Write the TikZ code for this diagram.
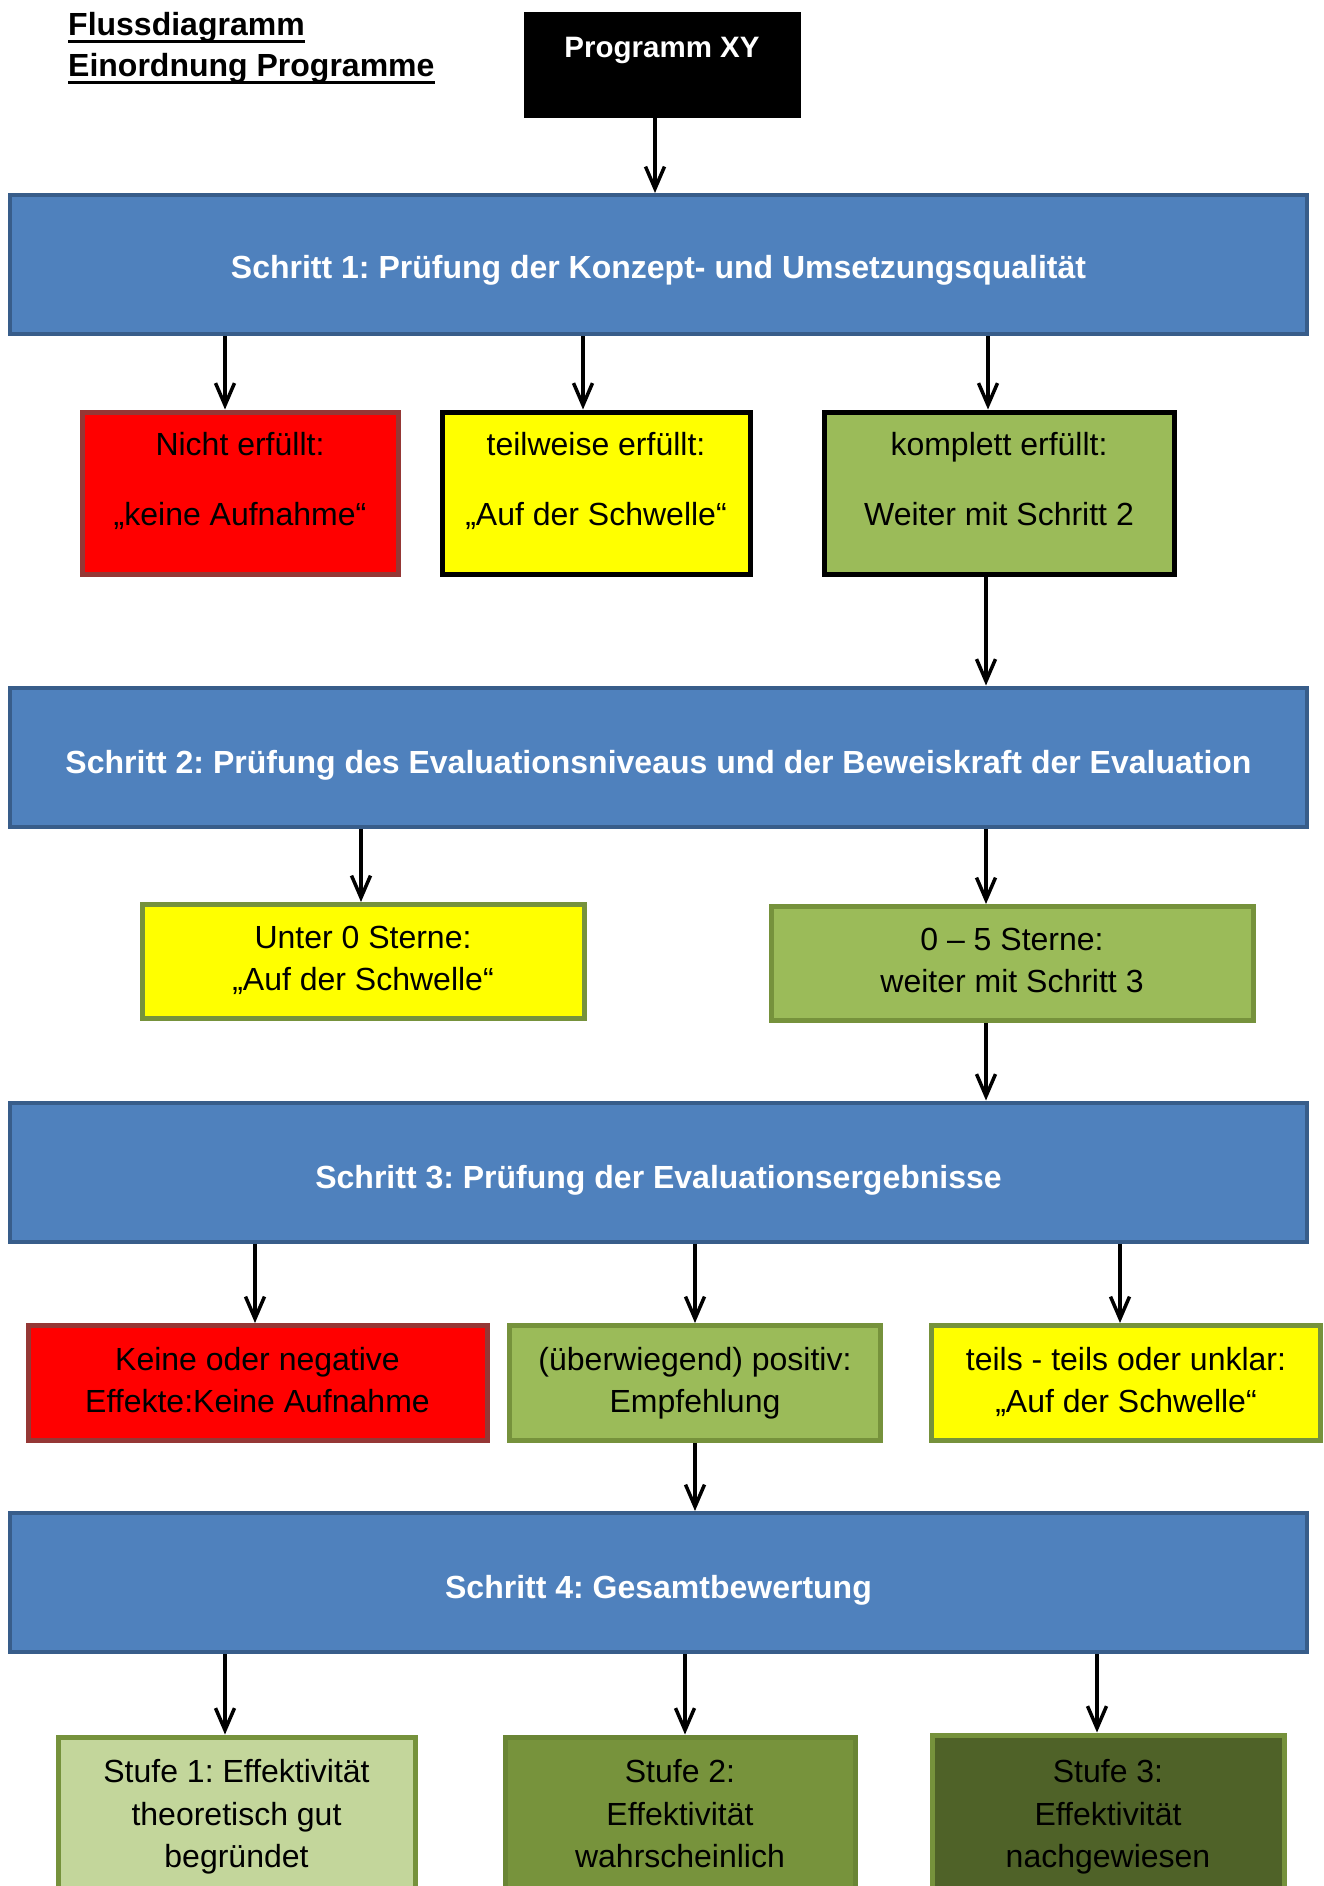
\documentclass[tikz,border=0pt]{standalone}
\usepackage{fontspec}
\setmainfont{Liberation Sans}
\usetikzlibrary{arrows.meta}
\frenchspacing
\definecolor{hblue}{HTML}{4F81BD}
\definecolor{hbluedark}{HTML}{385D8A}
\definecolor{redfill}{HTML}{FF0000}
\definecolor{redborder}{HTML}{953735}
\definecolor{yel}{HTML}{FFFF00}
\definecolor{grn}{HTML}{9BBB59}
\definecolor{olive}{HTML}{76923C}
\definecolor{lgrn}{HTML}{C3D69B}
\definecolor{mgrn}{HTML}{77933C}
\definecolor{mgrnborder}{HTML}{6A8535}
\definecolor{dgrn}{HTML}{4F6228}
\tikzset{
  hdr/.style={draw=hbluedark, fill=hblue, line width=4pt, minimum width=1297pt, minimum height=139pt, inner sep=0pt},
  stepbox/.style={line width=5pt, inner sep=0pt},
  txt/.style={anchor=base, inner sep=0pt, font=\fontsize{32}{38}\selectfont},
  htxt/.style={anchor=base, inner sep=0pt, text=white, font=\bfseries\fontsize{32}{38}\selectfont},
  ttl/.style={anchor=base west, inner sep=0pt, font=\bfseries\fontsize{32}{38}\selectfont},
  uline/.style={line width=3pt},
  arr/.style={line width=3.5pt, -{Straight Barb[length=22pt,width=19pt,line width=3.5pt]}}
}
\begin{document}
\begin{tikzpicture}[x=1pt,y=-1pt]
\useasboundingbox (0,0) rectangle (1324,1886);
% title
\node[ttl] (title1) at (68,36) {Flussdiagramm};
\node[ttl] (title2) at (68,77) {Einordnung Programme};
\draw[uline] ([yshift=-6pt]title1.base west) -- ([yshift=-6pt]title1.base east);
\draw[uline] ([yshift=-6pt]title2.base west) -- ([yshift=-6pt]title2.base east);
% program box
\node[draw=black, fill=black, minimum width=276pt, minimum height=105pt, inner sep=0pt] (prog) at (662,64.5) {};
\node[htxt, font=\bfseries\fontsize{29.5}{35}\selectfont] (progt) at (662,58) {Programm XY};
% header boxes
\node[hdr] (s1) at (658.5,264.5) {};
\node[htxt] (s1t) at (658.5,279) {Schritt 1: Prüfung der Konzept- und Umsetzungsqualität};
\node[hdr] (s2) at (658.5,757) {};
\node[htxt] (s2t) at (658.5,773) {Schritt 2: Prüfung des Evaluationsniveaus und der Beweiskraft der Evaluation};
\node[hdr] (s3) at (658.5,1172) {};
\node[htxt] (s3t) at (658.5,1188) {Schritt 3: Prüfung der Evaluationsergebnisse};
\node[hdr] (s4) at (658.5,1582.5) {};
\node[htxt] (s4t) at (658.5,1598) {Schritt 4: Gesamtbewertung};
% row 1
\node[stepbox, draw=redborder, fill=redfill, minimum width=316pt, minimum height=162pt] (r1a) at (240,493) {};
\node[txt] (r1a1) at (240,455) {Nicht erfüllt:};
\node[txt] (r1a2) at (240,525) {„keine Aufnahme“};
\node[stepbox, draw=black, fill=yel, minimum width=308pt, minimum height=162pt] (r1b) at (596,493) {};
\node[txt] (r1b1) at (596,455) {teilweise erfüllt:};
\node[txt] (r1b2) at (596,525) {„Auf der Schwelle“};
\node[stepbox, draw=black, fill=grn, minimum width=350pt, minimum height=162pt] (r1c) at (999,493) {};
\node[txt] (r1c1) at (999,455) {komplett erfüllt:};
\node[txt] (r1c2) at (999,525) {Weiter mit Schritt 2};
% row 2
\node[stepbox, draw=olive, fill=yel, minimum width=442pt, minimum height=114pt] (r2a) at (363,961.5) {};
\node[txt] (r2a1) at (363,948) {Unter 0 Sterne:};
\node[txt] (r2a2) at (363,990) {„Auf der Schwelle“};
\node[stepbox, draw=olive, fill=grn, minimum width=482pt, minimum height=114pt] (r2b) at (1012,963.5) {};
\node[txt] (r2b1) at (1012,950) {0 – 5 Sterne:};
\node[txt] (r2b2) at (1012,992) {weiter mit Schritt 3};
% row 3
\node[stepbox, draw=redborder, fill=redfill, minimum width=459pt, minimum height=115pt] (r3a) at (257.5,1383) {};
\node[txt] (r3a1) at (257.5,1370) {Keine oder negative};
\node[txt] (r3a2) at (257.5,1412) {Effekte:Keine Aufnahme};
\node[stepbox, draw=olive, fill=grn, minimum width=371pt, minimum height=115pt] (r3b) at (695,1383) {};
\node[txt] (r3b1) at (695,1370) {(überwiegend) positiv:};
\node[txt] (r3b2) at (695,1412) {Empfehlung};
\node[stepbox, draw=olive, fill=yel, minimum width=389pt, minimum height=115pt] (r3c) at (1126,1383) {};
\node[txt] (r3c1) at (1126,1370) {teils - teils oder unklar:};
\node[txt] (r3c2) at (1126,1412) {„Auf der Schwelle“};
% row 4
\node[stepbox, draw=olive, fill=lgrn, minimum width=357pt, minimum height=240pt] (r4a) at (236.5,1857) {};
\node[txt] (r4a1) at (236.5,1782) {Stufe 1: Effektivität};
\node[txt] (r4a2) at (236.5,1825) {theoretisch gut};
\node[txt] (r4a3) at (236.5,1867) {begründet};
\node[stepbox, draw=mgrnborder, fill=mgrn, minimum width=350pt, minimum height=240pt] (r4b) at (680,1857) {};
\node[txt] (r4b1) at (680,1782) {Stufe 2:};
\node[txt] (r4b2) at (680,1825) {Effektivität};
\node[txt] (r4b3) at (680,1867) {wahrscheinlich};
\node[stepbox, draw=olive, fill=dgrn, minimum width=352pt, minimum height=240pt] (r4c) at (1108,1855) {};
\node[txt] (r4c1) at (1108,1782) {Stufe 3:};
\node[txt] (r4c2) at (1108,1825) {Effektivität};
\node[txt] (r4c3) at (1108,1867) {nachgewiesen};
% arrow x positions
\coordinate (x0) at (655,0);
\coordinate (x1a) at (225,0);
\coordinate (x1b) at (583,0);
\coordinate (x1c) at (988,0);
\coordinate (x2) at (986,0);
\coordinate (x2a) at (361,0);
\coordinate (x3a) at (255,0);
\coordinate (x3b) at (695,0);
\coordinate (x3c) at (1120,0);
\coordinate (x4a) at (225,0);
\coordinate (x4b) at (685,0);
\coordinate (x4c) at (1097,0);
% connectors
\draw[arr] (prog.south -| x0) -- (s1.north -| x0);
\draw[arr] (s1.south -| x1a) -- (r1a.north -| x1a);
\draw[arr] (s1.south -| x1b) -- (r1b.north -| x1b);
\draw[arr] (s1.south -| x1c) -- (r1c.north -| x1c);
\draw[arr] (r1c.south -| x2) -- (s2.north -| x2);
\draw[arr] (s2.south -| x2a) -- (r2a.north -| x2a);
\draw[arr] (s2.south -| x2) -- (r2b.north -| x2);
\draw[arr] (r2b.south -| x2) -- (s3.north -| x2);
\draw[arr] (s3.south -| x3a) -- (r3a.north -| x3a);
\draw[arr] (s3.south -| x3b) -- (r3b.north -| x3b);
\draw[arr] (s3.south -| x3c) -- (r3c.north -| x3c);
\draw[arr] (r3b.south -| x3b) -- (s4.north -| x3b);
\draw[arr] (s4.south -| x4a) -- (r4a.north -| x4a);
\draw[arr] (s4.south -| x4b) -- (r4b.north -| x4b);
\draw[arr] (s4.south -| x4c) -- (r4c.north -| x4c);
\end{tikzpicture}
\end{document}
